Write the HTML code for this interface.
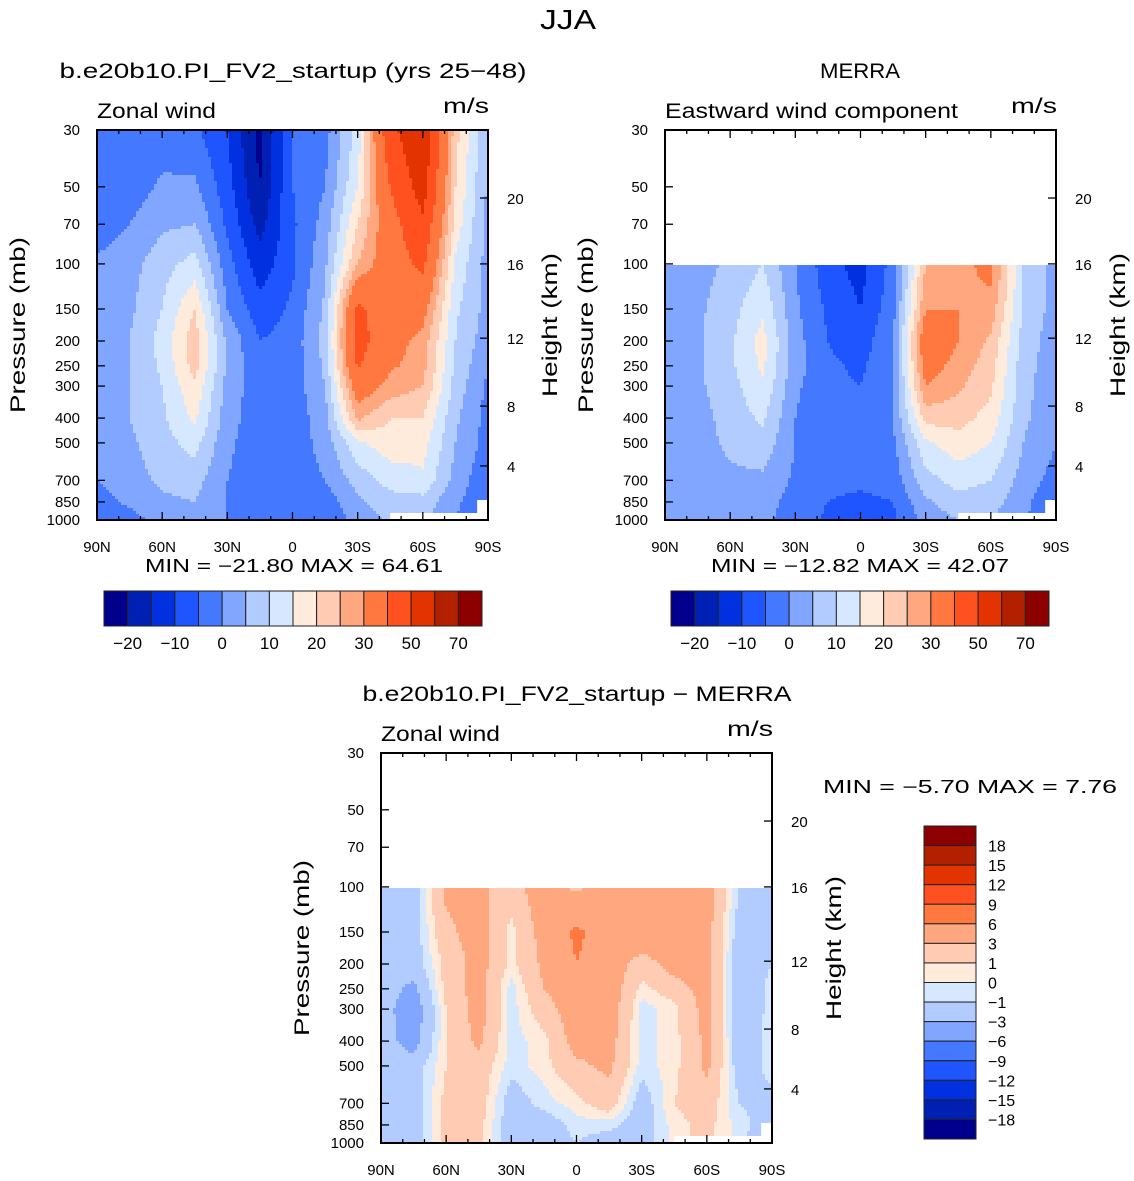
<!DOCTYPE html>
<html><head><meta charset="utf-8"><style>
body{margin:0;background:#fff}
svg{display:block;font-family:"Liberation Sans","DejaVu Sans",sans-serif}
</style></head><body>
<svg id="fig" width="1134" height="1181" viewBox="0 0 1134 1181" xmlns="http://www.w3.org/2000/svg">
<text x="568" y="29" font-size="28" text-anchor="middle" textLength="56" lengthAdjust="spacingAndGlyphs">JJA</text>
</svg>
<script>
const lats = [90,75,60,45,30,15,0,-15,-30,-45,-60,-75,-90];
const pLevels = [30,50,70,100,150,200,250,300,400,500,700,850,1000];
const N = null;
const modelU = [
[-3,-3,-3,-4,-10,-22,-4,-2,12,48,58,22,5],
[-3,-3,1,1,-8,-20,-5,0,15,40,55,20,4],
[-3,0,4,5,-6,-17,-6,2,20,36,48,18,3],
[1,3,8,12,-3,-13,-6,4,25,35,42,14,3],
[1,4,10,20,0,-8,-4,6,42,34,33,11,3],
[1,5,12,23,4,-5,-3,7,44,33,28,10,2],
[1,5,11,22,4,-4,-3,6,41,31,27,9,0],
[1,5,10,19,3,-3,-3,5,35,28,25,8,-1],
[1,5,9,16,2,-3,-3,3,26,20,20,6,-2],
[1,4,8,12,1,-3,-3,2,14,18,17,5,-2],
[0,3,6,7,0,-3,-3,0,7,12,14,3,-4],
[-2,1,4,5,0,-4,-3,-3,4,8,8,1,-4],
[-4,-2,2,3,0,-5,-3,-4,2,6,6,0,-5]];
const merraU = [
[N,N,N,N,N,N,N,N,N,N,N,N,N],
[N,N,N,N,N,N,N,N,N,N,N,N,N],
[N,N,N,N,N,N,N,N,N,N,N,N,N],
[2,3,6,10,0,-8,-12,-3,25,28,32,10,3],
[2,4,8,14,1,-6,-10,-2,30,30,28,9,3],
[2,4,9,17,2,-5,-8,0,36,30,24,8,2],
[2,4,9,16,2,-4,-6,0,33,28,22,7,2],
[2,4,8,14,1,-4,-5,0,30,26,21,7,1],
[2,3,7,11,0,-4,-4,0,22,22,18,6,1],
[1,3,6,8,0,-4,-4,-1,14,18,15,5,0],
[1,2,4,4,-1,-4,-4,-3,8,12,10,3,-2],
[0,1,3,2,-2,-5,-6,-5,4,8,7,2,-6],
[0,1,2,1,-2,-6,-7,-6,2,5,5,1,-8]];
const diffU = [
[N,N,N,N,N,N,N,N,N,N,N,N,N],
[N,N,N,N,N,N,N,N,N,N,N,N,N],
[N,N,N,N,N,N,N,N,N,N,N,N,N],
[-1,-2,3.5,3.5,2,4.5,2.5,4.5,4.5,4.5,4,-1,-1],
[-1.5,-2,2.5,4,0.5,4,6.5,4.5,5,4,4,-2,-1],
[-1.5,-2,1.5,4,0.5,3.5,6,4.5,2,4,4,-2.5,-1],
[-2,-3.5,1.5,4,-0.5,3,4.5,4.5,0.5,2,4,-2.5,-0.5],
[-2,-4.5,1,4,-0.5,2,4.5,4.5,-0.5,0.5,4,-2.5,-0.5],
[-2,-4,1,3.5,-0.5,0.5,4,4,-0.5,0.5,3.5,-2,-0.5],
[-2,-2,1,2,-0.5,0.5,2.5,3.5,-0.5,0.5,3.5,-2,-0.5],
[-2,-2,1.5,2,-2,-0.5,0.5,2,-2,1,2,-1,-1.5],
[-2,-2,1.5,1.5,-2,-2,-0.5,-0.5,-2,0.5,1.5,-0.5,-2],
[-2,-2,1.5,1.5,-2,-2,-1,-2,-2,0.5,1.5,-0.5,-3]];
const windLevels = [-20,-15,-10,-5,0,5,10,15,20,25,30,40,50,60,70];
const windTickLabels = ["−20","−10","0","10","20","30","50","70"];
const diffLevels = [-18,-15,-12,-9,-6,-3,-1,0,1,3,6,9,12,15,18];
const diffTickLabels = ["−18","−15","−12","−9","−6","−3","−1","0","1","3","6","9","12","15","18"];
const pTickLabels = ["30","50","70","100","150","200","250","300","400","500","700","850","1000"];
const latTickLabels = ["90N","60N","30N","0","30S","60S","90S"];
const kmTicks = [4,8,12,16,20];
const kmPressures = [615,359,195,100,55.3];
const colors = ["#00008C","#0020B4","#0030E0","#1E55FF","#4479FF","#80A6FF","#B3CCFF","#D6E8FF","#FFEBDB","#FFCBB3","#FFA880","#FF7840","#FF5020","#E33300","#B32000","#8C0000"];

const svg = document.getElementById('fig');
const NS = "http://www.w3.org/2000/svg";
function mk(tag, attrs, parent){const e=document.createElementNS(NS,tag);for(const k in attrs)e.setAttribute(k,attrs[k]);(parent||svg).appendChild(e);return e;}
function txt(s, attrs, parent){const e=mk('text',attrs,parent);e.textContent=s;return e;}
function colorFor(v, levels){let i=0;while(i<levels.length&&v>=levels[i])i++;return colors[i];}

function panel(o){
  const g=mk('g',{});
  
  
  const x0=o.x, x1=o.x+391, y0=o.y, y1=o.y+390;
  const lp0=Math.log10(30), lp1=Math.log10(1000);
  const yOf=p=>y0+(Math.log10(p)-lp0)/(lp1-lp0)*390;
  const xOf=lat=>x0+(90-lat)/180*391;
  const rowY=pLevels.map(yOf);
  const cg=mk('g',{'shape-rendering':'crispEdges'},g);
  
  
  const step=3;
  for(let py=y0;py<y1;py+=step){
    const yc=py+step/2;
    let r=0;while(r<rowY.length-2&&yc>rowY[r+1])r++;
    const ty=Math.min(1,Math.max(0,(yc-rowY[r])/(rowY[r+1]-rowY[r])));
    let runStart=x0, runCol=null;
    for(let px=x0;;px+=step){
      const end=px>=x1;
      let col=null;
      if(!end){
        const xc=Math.min(px+step/2,x1);
        const fi=(xc-x0)/391*12;let c=Math.min(11,Math.floor(fi));const tx=fi-c;
        const d=o.data;
        const a=d[r][c],b=d[r][c+1],cc=d[r+1][c],dd=d[r+1][c+1];
        if(a===null||b===null||cc===null||dd===null){col=null;}
        else{const v=(a*(1-tx)+b*tx)*(1-ty)+(cc*(1-tx)+dd*tx)*ty;col=colorFor(v,o.levels);}
      }
      if(col!==runCol||end){
        const xe=end?x1:px;
        if(runCol){const rc=mk('rect',{x:runStart,y:py,width:xe-runStart,height:Math.min(step,y1-py),fill:runCol},cg);
          
          }
        runStart=px;runCol=col;
      }
      if(end)break;
    }
  }
  const m=mk('polygon',{points:`${xOf(-45)},${y1} ${xOf(-45)},${y1-7} ${xOf(-85)},${y1-7} ${xOf(-85)},${y1-20} ${xOf(-90)},${y1-20} ${xOf(-90)},${y1}`,fill:'#fff'},g);
  
  
  const fr=mk('rect',{x:x0,y:y0,width:391,height:390,fill:'none',stroke:'#000','stroke-width':2},g);
  
  
  pLevels.forEach((p,i)=>{const y=yOf(p);
    mk('line',{x1:x0,x2:x0+8,y1:y,y2:y,stroke:'#000','stroke-width':1.3},g);
    const t=txt(pTickLabels[i],{x:x0-17,y:y+5,'font-size':15,'text-anchor':'end'},g);
    
    });
  for(let lat=90;lat>=-90;lat-=10){const x=xOf(lat);const major=lat%30===0;
    mk('line',{x1:x,x2:x,y1:y1,y2:y1-(major?8:4),stroke:'#000','stroke-width':1.3},g);
    mk('line',{x1:x,x2:x,y1:y0,y2:y0+(major?8:4),stroke:'#000','stroke-width':1.3},g);}
  latTickLabels.forEach((s,i)=>{const t=txt(s,{x:xOf(90-30*i),y:y1+32,'font-size':15,'text-anchor':'middle'},g);
    
    });
  kmTicks.forEach((k,i)=>{const y=yOf(kmPressures[i]);
    mk('line',{x1:x1,x2:x1-8,y1:y,y2:y,stroke:'#000','stroke-width':1.3},g);
    const t=txt(String(k),{x:x1+19,y:y+6,'font-size':15},g);
    
    });
  const yl=txt('Pressure (mb)',{x:0,y:0,'font-size':21,'text-anchor':'middle',textLength:176,lengthAdjust:'spacingAndGlyphs',transform:`translate(${x0-72},${y0+195}) rotate(-90)`},g);
  
  
  const hl=txt('Height (km)',{x:0,y:0,'font-size':21,'text-anchor':'middle',textLength:144,lengthAdjust:'spacingAndGlyphs',transform:`translate(${x1+69},${y0+195}) rotate(-90)`},g);
  
  
  const lt=txt(o.left,{x:x0,y:y0-12,'font-size':21,textLength:o.lw,lengthAdjust:'spacingAndGlyphs'},g);
  
  
  const rt=txt('m/s',{x:x1+1,y:y0-17,'font-size':21,'text-anchor':'end',textLength:46,lengthAdjust:'spacingAndGlyphs'},g);
  
  
  const tt=txt(o.title,{x:o.tx,y:o.y-52,'font-size':21,'text-anchor':'middle',textLength:o.tw,lengthAdjust:'spacingAndGlyphs'},g);
  
  
}
function hbar(x,y,name,minmax,cx){
  const g=mk('g',{});
  
  
  const w=378/16;
  colors.forEach((c,i)=>{const r=mk('rect',{x:x+i*w,y:y,width:w,height:35,fill:c,stroke:'#222','stroke-width':1},g);
    
    });
  windTickLabels.forEach((s,i)=>{const t=txt(s,{x:x+(1+2*i)*w,y:y+58,'font-size':17,'text-anchor':'middle'},g);
    
    });
  const mm=txt(minmax,{x:cx,y:y-19,'font-size':18,'text-anchor':'middle','xml:space':'preserve',textLength:298,lengthAdjust:'spacingAndGlyphs'},g);
  
  
}
panel({name:'model-panel',x:97,y:130,data:modelU,levels:windLevels,left:'Zonal wind',lw:119,title:'b.e20b10.PI_FV2_startup (yrs 25−48)',tx:293,tw:467});
panel({name:'merra-panel',x:665,y:130,data:merraU,levels:windLevels,left:'Eastward wind component',lw:293,title:'MERRA',tx:860,tw:80});
panel({name:'difference-panel',x:381,y:753,data:diffU,levels:diffLevels,left:'Zonal wind',lw:119,title:'b.e20b10.PI_FV2_startup − MERRA',tx:577,tw:429});
hbar(104,591,'model-colorbar','MIN =  −21.80   MAX =   64.61',294);
hbar(671,591,'merra-colorbar','MIN =  −12.82   MAX =   42.07',860);
(function(){
  const g=mk('g',{});
  
  
  const x=924,y=826,h=313/16;
  for(let i=0;i<16;i++){const r=mk('rect',{x:x,y:y+i*h,width:52,height:h,fill:colors[15-i],stroke:'#222','stroke-width':1},g);
    
    }
  for(let i=0;i<15;i++){const t=txt(diffTickLabels[14-i],{x:988,y:y+(i+1)*h+6,'font-size':16},g);
    
    }
  const mm=txt('MIN =   −5.70   MAX =    7.76',{x:823,y:793,'font-size':18,'xml:space':'preserve',textLength:294,lengthAdjust:'spacingAndGlyphs'},g);
  
  
})();
</script>
</body></html>
